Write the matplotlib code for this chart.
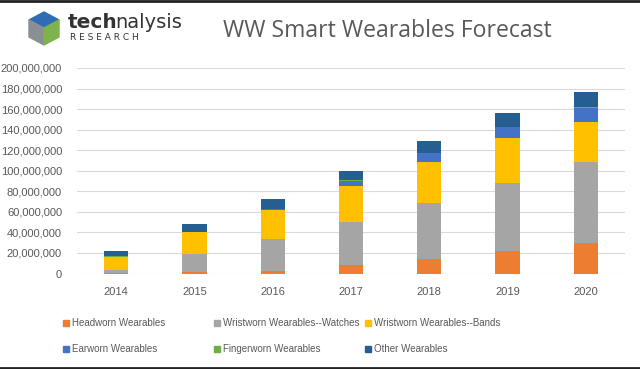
import matplotlib
matplotlib.use("Agg")
import matplotlib.pyplot as plt
import numpy as np
from matplotlib.patches import Rectangle, Polygon
from matplotlib.lines import Line2D
from matplotlib.ticker import FuncFormatter

years = ["2014", "2015", "2016", "2017", "2018", "2019", "2020"]
headworn = [0.2, 1.0, 2.6, 8.2, 14.4, 21.6, 30.0]
watches = [3.0, 18.0, 30.8, 42.0, 54.3, 66.0, 78.4]
bands = [13.0, 21.0, 28.0, 35.3, 40.3, 44.7, 39.2]
earworn = [0.3, 0.5, 1.0, 5.0, 8.4, 10.0, 13.8]
fingerworn = [0.05, 0.1, 0.15, 0.2, 0.3, 0.3, 0.4]
other = [5.6, 7.6, 10.0, 9.3, 11.3, 13.4, 15.1]
series_names = ["Headworn Wearables", "Wristworn Wearables--Watches", "Wristworn Wearables--Bands",
                "Earworn Wearables", "Fingerworn Wearables", "Other Wearables"]
colors = ["#ED7D31", "#A5A5A5", "#FFC000", "#4472C4", "#70AD47", "#255E91"]
title = "WW Smart Wearables Forecast"

W, H = 640, 369
fig = plt.figure(figsize=(6.4, 3.69), dpi=100)
fig.patch.set_facecolor("white")
txtc = "#595959"
fam = ["Liberation Sans", "DejaVu Sans"]

ax = fig.add_axes([77 / W, 1 - 273.5 / H, (625 - 77) / W, (273.5 - 68) / H])
x = np.arange(len(years))
data = [headworn, watches, bands, earworn, fingerworn, other]
bottom = np.zeros(len(years))
for vals, c in zip(data, colors):
    v = np.array(vals) * 1e6
    ax.bar(x, v, 0.31, bottom=bottom, color=c, zorder=3)
    bottom += v
ax.set_xlim(-0.5, 6.5)
ax.set_ylim(0, 200e6)
ax.set_yticks(np.arange(0, 200e6 + 1, 20e6))
ax.yaxis.set_major_formatter(FuncFormatter(lambda v, p: f"{int(v):,}"))
ax.set_xticks(x)
ax.set_xticklabels(years)
ax.grid(axis="y", color="#D9D9D9", lw=0.8, zorder=0)
for s in ax.spines.values():
    s.set_visible(False)
ax.tick_params(length=0, colors=txtc, labelsize=8)
ax.tick_params(axis="y", pad=10.8)
ax.tick_params(axis="x", pad=9.5)
for lab in ax.get_xticklabels() + ax.get_yticklabels():
    lab.set_family(fam)
    lab.set_color(txtc)

# title
fig.text(387 / W, 1 - 31 / H, title, ha="center", va="center", fontsize=16.6,
         color=txtc, family=["Open Sans", "DejaVu Sans"])

# logo
def P(px, py):
    return (px / W, 1 - py / H)
fig.add_artist(Polygon([P(29, 20), P(44, 12), P(59, 20), P(44, 28)], closed=True,
                       transform=fig.transFigure, color="#2E6DB4"))
fig.add_artist(Polygon([P(29, 20), P(44, 28), P(44, 45), P(29, 37)], closed=True,
                       transform=fig.transFigure, color="#8A8F94"))
fig.add_artist(Polygon([P(44, 28), P(59, 20), P(59, 37), P(44, 45)], closed=True,
                       transform=fig.transFigure, color="#7FB24A"))
fig.text(68 / W, 1 - 22 / H, "tech", fontsize=14.5, fontweight="bold", color="#333333",
         va="center", ha="left", family=["DejaVu Sans"])
fig.text(115 / W, 1 - 22 / H, "nalysis", fontsize=14, color="#333333",
         va="center", ha="left", family=["DejaVu Sans"])
fig.text(70 / W, 1 - 38 / H, "R E S E A R C H", fontsize=6.5, color="#333333",
         va="center", ha="left", family=["DejaVu Sans"])

# legend (manual layout)
leg_pos = [(66, 323), (217, 323), (368, 323), (66, 349), (217, 349), (368, 349)]
for (px, py), name, c in zip(leg_pos, series_names, colors):
    fig.add_artist(Rectangle(((px - 3) / W, 1 - (py + 3) / H), 6 / W, 6 / H,
                             transform=fig.transFigure, color=c))
    fig.text((px + 6) / W, 1 - py / H, name, fontsize=7.0, color=txtc, va="center",
             ha="left", family=fam)

# dark frame lines top and bottom
fig.add_artist(Line2D([0, 1], [1 - 1 / H, 1 - 1 / H], transform=fig.transFigure, color="#222222", lw=2))
fig.add_artist(Line2D([0, 1], [1 - 367.5 / H, 1 - 367.5 / H], transform=fig.transFigure, color="#222222", lw=2))

fig.savefig("out.png", dpi=100, facecolor="white")
